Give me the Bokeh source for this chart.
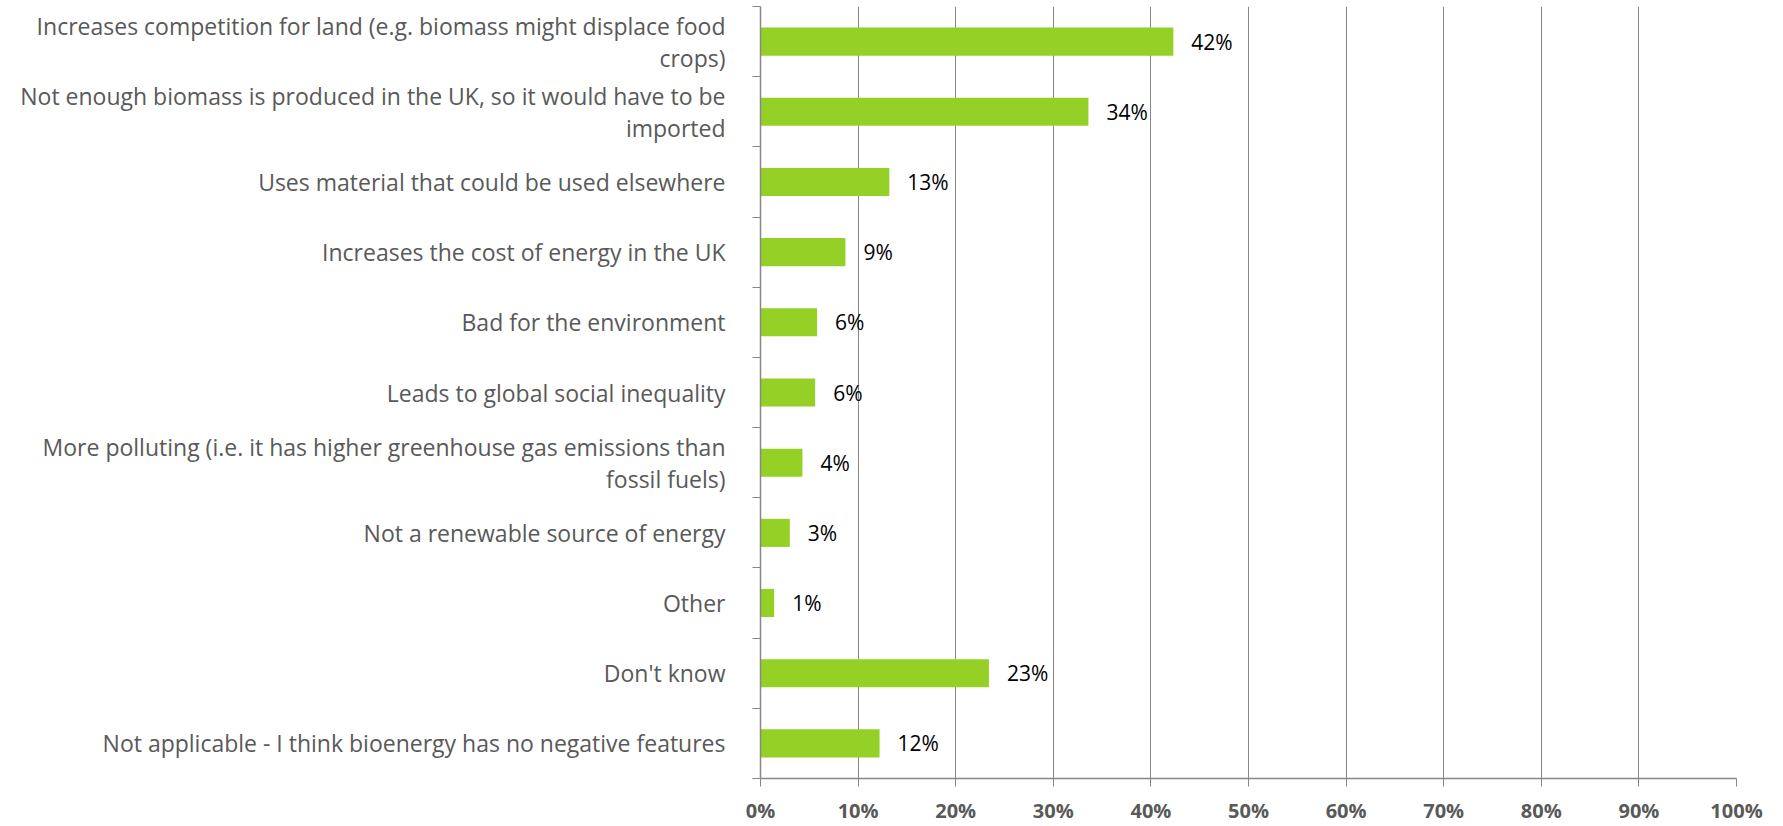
from bokeh.plotting import figure
from bokeh.models import ColumnDataSource, FixedTicker, Range1d
from bokeh.core.properties import value
from bokeh.embed import file_html
from bokeh.resources import INLINE

categories = [
    "Increases competition for land (e.g. biomass might displace food\ncrops)",
    "Not enough biomass is produced in the UK, so it would have to be\nimported",
    "Uses material that could be used elsewhere",
    "Increases the cost of energy in the UK",
    "Bad for the environment",
    "Leads to global social inequality",
    "More polluting (i.e. it has higher greenhouse gas emissions than\nfossil fuels)",
    "Not a renewable source of energy",
    "Other",
    "Don't know",
    "Not applicable - I think bioenergy has no negative features",
]
values = [42.3, 33.6, 13.2, 8.7, 5.8, 5.6, 4.3, 3.0, 1.4, 23.4, 12.2]
value_labels = ["42%", "34%", "13%", "9%", "6%", "6%", "4%", "3%", "1%", "23%", "12%"]
x_ticks = [0, 10, 20, 30, 40, 50, 60, 70, 80, 90, 100]
x_tick_labels = ["0%", "10%", "20%", "30%", "40%", "50%", "60%", "70%", "80%", "90%", "100%"]

FONT = "Open Sans"
GRAY = "#878787"
TEXT_GRAY = "#595959"
BAR = "#94D026"

n = len(categories)
src = ColumnDataSource(dict(y=list(range(n)), value=values, label=value_labels))

p = figure(width=1778, height=826, output_backend="svg", toolbar_location=None,
           x_range=Range1d(0, 100), y_range=Range1d(n - 0.5, -0.5),
           min_border_left=760, min_border_top=6, min_border_bottom=46, min_border_right=42)
p.outline_line_color = None
p.background_fill_color = "white"
p.border_fill_color = "white"

p.hbar(y="y", left=0, right="value", height=0.40, source=src,
       fill_color=BAR, line_color=None)
p.text(x="value", y="y", text="label", source=src, x_offset=18,
       text_baseline="middle", text_align="left", text_font=value(FONT),
       text_font_size="21px", text_color="black")

# x axis
p.xaxis.ticker = FixedTicker(ticks=x_ticks)
p.xaxis.major_label_overrides = {t: l for t, l in zip(x_ticks, x_tick_labels)}
p.xaxis.major_label_text_font = FONT
p.xaxis.major_label_text_font_style = "bold"
p.xaxis.major_label_text_font_size = "20px"
p.xaxis.major_label_text_line_height = 0.9
p.xaxis.major_label_text_color = TEXT_GRAY
p.xaxis.major_label_standoff = 10
p.xaxis.major_tick_in = 0
p.xaxis.major_tick_out = 8
p.xaxis.major_tick_line_color = GRAY
p.xaxis.minor_tick_line_color = None
p.xaxis.axis_line_color = GRAY
p.xaxis.axis_line_width = 1.5

p.xgrid.ticker = FixedTicker(ticks=x_ticks)
p.xgrid.grid_line_color = GRAY
p.xgrid.grid_line_width = 1
p.ygrid.visible = False

# y axis
p.yaxis.ticker = FixedTicker(ticks=list(range(n)), minor_ticks=[i - 0.5 for i in range(n + 1)])
p.yaxis.major_label_overrides = {i: c for i, c in enumerate(categories)}
p.yaxis.major_label_text_font = FONT
p.yaxis.major_label_text_font_size = "23px"
p.yaxis.major_label_text_color = TEXT_GRAY
p.yaxis.major_label_text_line_height = 1.0
p.yaxis.major_label_standoff = 27
p.yaxis.major_tick_line_color = None
p.yaxis.major_tick_in = 0
p.yaxis.major_tick_out = 0
p.yaxis.minor_tick_in = 0
p.yaxis.minor_tick_out = 8
p.yaxis.minor_tick_line_color = GRAY
p.yaxis.axis_line_color = GRAY
p.yaxis.axis_line_width = 1.5

open("out.html", "w").write(file_html(p, INLINE))
